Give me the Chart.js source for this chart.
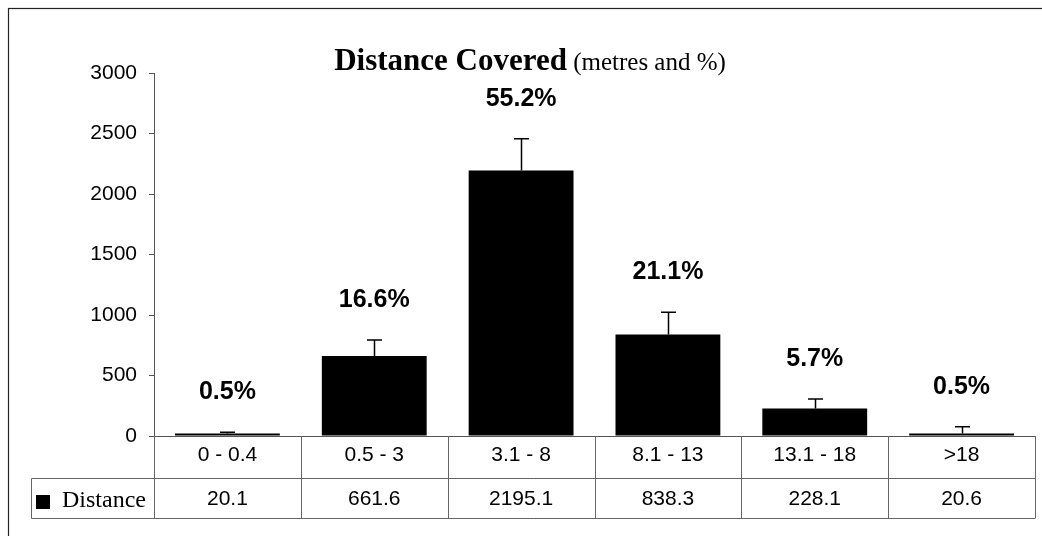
<!DOCTYPE html>
<html>
<head>
<meta charset="utf-8">
<script src="https://cdn.jsdelivr.net/npm/chart.js@4.4.1/dist/chart.umd.min.js"></script>
<style>
  html, body { margin: 0; padding: 0; background: #fff; }
  #wrap { width: 1042px; height: 536px; }
</style>
</head>
<body>
<div id="wrap"><canvas id="c" width="1042" height="536"></canvas></div>
<script>
// ---- data ----
const categories = ['0 - 0.4', '0.5 - 3', '3.1 - 8', '8.1 - 13', '13.1 - 18', '>18'];
const distance = [20.1, 661.6, 2195.1, 838.3, 228.1, 20.6];
const errorPlus = [10, 132, 262, 184, 78, 56];
const percentLabels = ['0.5%', '16.6%', '55.2%', '21.1%', '5.7%', '0.5%'];
const seriesName = 'Distance';
const titleMain = 'Distance Covered';
const titleSub = ' (metres and %)';
const yTicks = [0, 500, 1000, 1500, 2000, 2500, 3000];

const LINE = '#666';

const decor = {
  id: 'decor',
  beforeDraw(chart) {
    const ctx = chart.ctx;
    ctx.save();
    ctx.fillStyle = '#fff';
    ctx.fillRect(0, 0, chart.width, chart.height);
    ctx.restore();
  },
  afterDatasetsDraw(chart) {
    const ctx = chart.ctx;
    const x = chart.scales.x, y = chart.scales.y;
    ctx.save();
    // error bars
    ctx.strokeStyle = '#000';
    ctx.lineWidth = 1.5;
    distance.forEach((v, i) => {
      const px = Math.round(x.getPixelForValue(i)) + 0.5;
      const top = y.getPixelForValue(v + errorPlus[i]);
      const base = y.getPixelForValue(v);
      ctx.beginPath();
      ctx.moveTo(px, base);
      ctx.lineTo(px, top);
      ctx.moveTo(px - 7.5, top);
      ctx.lineTo(px + 7.5, top);
      ctx.stroke();
      // percentage label
      ctx.fillStyle = '#000';
      ctx.font = 'bold 25px "Liberation Sans", Arial, sans-serif';
      ctx.textAlign = 'center';
      ctx.textBaseline = 'middle';
      ctx.fillText(percentLabels[i], x.getPixelForValue(i), top - 40);
    });
    ctx.restore();
  },
  afterDraw(chart) {
    const ctx = chart.ctx;
    const ca = chart.chartArea;
    const x = chart.scales.x;
    ctx.save();
    // outer border (cropped on right/bottom)
    ctx.strokeStyle = '#222';
    ctx.lineWidth = 1.2;
    ctx.strokeRect(8.5, 8.5, 1200, 800);

    // title
    ctx.fillStyle = '#000';
    ctx.textBaseline = 'alphabetic';
    ctx.textAlign = 'left';
    const fMain = 'bold 31px "Liberation Serif", "Times New Roman", serif';
    const fSub = '25px "Liberation Serif", "Times New Roman", serif';
    ctx.font = fMain;
    const w1 = ctx.measureText(titleMain).width;
    ctx.font = fSub;
    const w2 = ctx.measureText(titleSub).width;
    const tx = 530 - (w1 + w2) / 2;
    ctx.font = fMain;
    ctx.fillText(titleMain, tx, 70);
    ctx.font = fSub;
    ctx.fillText(titleSub, tx + w1, 70);

    // data table
    const r0 = ca.bottom, r1 = x.bottom, r2 = 518.5;
    const left = ca.left, right = ca.right;
    const legL = 31.5;
    ctx.strokeStyle = LINE;
    ctx.lineWidth = 1;
    ctx.beginPath();
    ctx.moveTo(legL, Math.round(r1) + 0.5); ctx.lineTo(right, Math.round(r1) + 0.5);
    ctx.moveTo(legL, r2); ctx.lineTo(right, r2);
    ctx.moveTo(legL, Math.round(r1) + 0.5); ctx.lineTo(legL, r2);
    const n = categories.length;
    const cw = (right - left) / n;
    for (let i = 0; i <= n; i++) {
      const bx = Math.round(x.getPixelForValue(i) - cw / 2) + 0.5;
      ctx.moveTo(bx, r0); ctx.lineTo(bx, r2);
    }
    ctx.stroke();

    // data row values
    ctx.fillStyle = '#000';
    ctx.font = '21px "Liberation Sans", Arial, sans-serif';
    ctx.textAlign = 'center';
    ctx.textBaseline = 'middle';
    const rowMid = (Math.round(r1) + r2) / 2 + 1;
    distance.forEach((v, i) => {
      ctx.fillText(v.toFixed(1), x.getPixelForValue(i), rowMid);
    });
    // legend key
    ctx.fillRect(36, 495, 14, 14);
    ctx.font = '24px "Liberation Serif", "Times New Roman", serif';
    ctx.textAlign = 'left';
    ctx.textBaseline = 'alphabetic';
    ctx.fillText(seriesName, 62, 507);
    ctx.restore();
  }
};

new Chart(document.getElementById('c'), {
  type: 'bar',
  data: {
    labels: categories,
    datasets: [{
      label: seriesName,
      data: distance,
      backgroundColor: '#000',
      borderWidth: 0,
      barPercentage: 0.714,
      categoryPercentage: 1.0
    }]
  },
  options: {
    responsive: false,
    animation: false,
    devicePixelRatio: 1,
    layout: { padding: { left: 0, right: 7, top: 73, bottom: 58 } },
    plugins: {
      legend: { display: false },
      title: { display: false },
      tooltip: { enabled: false }
    },
    scales: {
      x: {
        type: 'category',
        grid: { display: false, drawTicks: false },
        border: { display: true, color: '#555', width: 1 },
        ticks: {
          color: '#000',
          font: { family: '"Liberation Sans", Arial, sans-serif', size: 21 },
          padding: 7,
          maxRotation: 0,
          autoSkip: false
        },
        afterFit(scale) { scale.height = 42; }
      },
      y: {
        min: 0,
        max: 3000,
        afterBuildTicks(scale) { scale.ticks = yTicks.map(v => ({ value: v })); },
        grid: { drawOnChartArea: false, drawTicks: true, tickLength: 5, color: '#555' },
        border: { display: true, color: '#555', width: 1 },
        ticks: {
          color: '#000',
          font: { family: '"Liberation Sans", Arial, sans-serif', size: 21 },
          padding: 12,
          callback: (v) => String(v)
        },
        afterFit(scale) { scale.width = 154; }
      }
    }
  },
  plugins: [decor]
});
</script>
</body>
</html>
